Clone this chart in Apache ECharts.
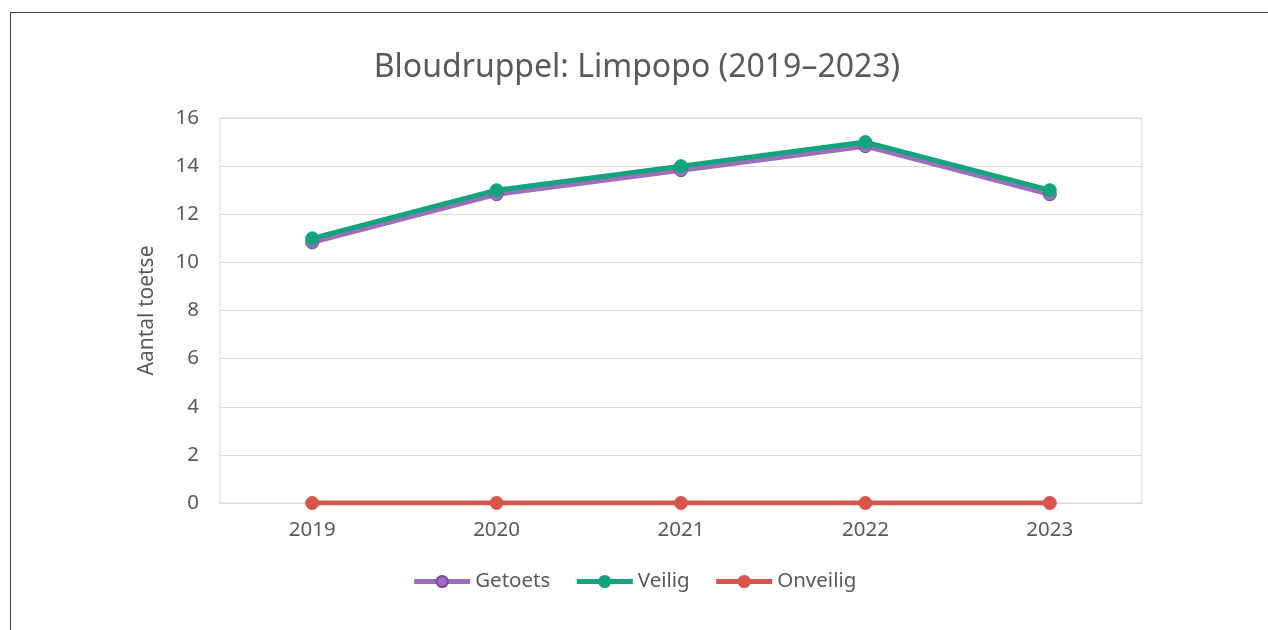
<!DOCTYPE html>
<html>
<head>
<meta charset="utf-8">
<script src="https://cdn.jsdelivr.net/npm/echarts@6/dist/echarts.min.js"></script>
<style>
html,body{margin:0;padding:0;background:#fff;}
#frame{position:absolute;left:10px;top:12px;width:1300px;height:700px;border-left:1.5px solid #404040;border-top:1.5px solid #404040;box-sizing:border-box;}
#chart{position:absolute;left:0;top:0;width:1268px;height:630px;}
</style>
</head>
<body>
<div id="frame"></div>
<div id="chart"></div>
<script>
const categories = ['2019', '2020', '2021', '2022', '2023'];
const getoets = [10.83, 12.83, 13.83, 14.83, 12.83];
const veilig = [11, 13, 14, 15, 13];
const onveilig = [0, 0, 0, 0, 0];
const yTicks = [0, 2, 4, 6, 8, 10, 12, 14, 16];

const font = '"Noto Sans", "Open Sans", sans-serif';
const chart = echarts.init(document.getElementById('chart'), null, {renderer: 'canvas'});
chart.setOption({
  backgroundColor: 'transparent',
  animation: false,
  title: {
    text: 'Bloudruppel: Limpopo (2019–2023)',
    left: 632, top: 47, textAlign: 'center',
    textStyle: {fontFamily: font, fontSize: 32, fontWeight: 'normal', color: '#595959'}
  },
  grid: {left: 220, right: 126, top: 118, bottom: 127, show: true, borderColor: '#d9d9d9', borderWidth: 1},
  legend: {
    bottom: 33, left: 'center', itemWidth: 56, itemHeight: 14, itemGap: 24,
    lineStyle: {width: 5},
    textStyle: {fontFamily: font, fontSize: 20.5, color: '#595959'},
    data: ['Getoets', 'Veilig', 'Onveilig']
  },
  xAxis: {
    type: 'category', data: categories, boundaryGap: true,
    axisLine: {show: true, lineStyle: {color: '#d9d9d9'}},
    axisTick: {show: false},
    axisLabel: {fontFamily: font, fontSize: 20.5, color: '#595959', margin: 17}
  },
  yAxis: {
    type: 'value', min: yTicks[0], max: yTicks[yTicks.length - 1], interval: 2,
    name: 'Aantal toetse', nameLocation: 'middle', nameGap: 62,
    nameTextStyle: {fontFamily: font, fontSize: 21, color: '#595959'},
    axisLine: {show: false}, axisTick: {show: false},
    axisLabel: {fontFamily: font, fontSize: 20.5, color: '#595959', margin: 21},
    splitLine: {lineStyle: {color: '#d9d9d9', width: 1}}
  },
  series: [
    {name: 'Getoets', type: 'line', data: getoets, symbol: 'circle', symbolSize: 13,
     lineStyle: {color: '#9B6FBA', width: 5}, itemStyle: {color: '#9B6FBA', borderColor: '#7A48A8', borderWidth: 1}, z: 2},
    {name: 'Veilig', type: 'line', data: veilig, symbol: 'circle', symbolSize: 13,
     lineStyle: {color: '#12A57D', width: 5}, itemStyle: {color: '#12A57D', borderColor: '#12A57D', borderWidth: 1}, z: 3},
    {name: 'Onveilig', type: 'line', data: onveilig, symbol: 'circle', symbolSize: 13,
     lineStyle: {color: '#D9544A', width: 5}, itemStyle: {color: '#D9544A', borderColor: '#D9544A', borderWidth: 1}, z: 4}
  ]
});
</script>
</body>
</html>
